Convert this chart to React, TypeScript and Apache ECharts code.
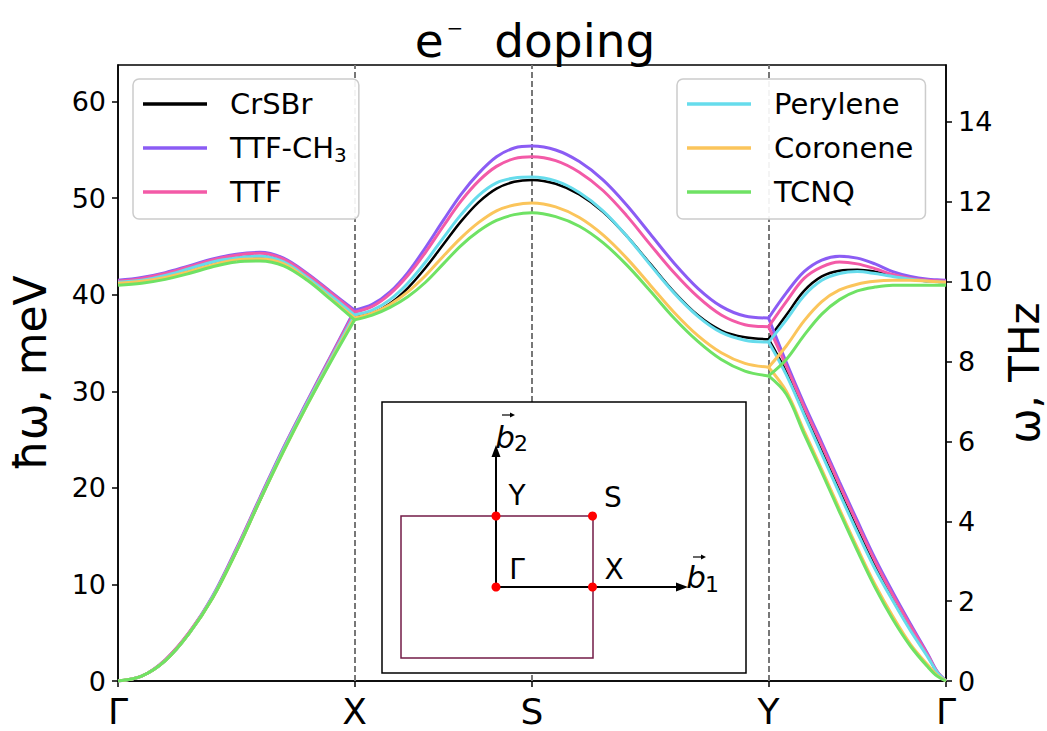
import React, { useEffect, useRef } from 'react';
import * as echarts from 'echarts';

// ---- axis / path definitions ----
const kTicks = [0, 1, 1.75, 2.75, 3.5];
const kLabels = ['Γ', 'X', 'S', 'Y', 'Γ'];
const segFrac = [0, 0.1, 0.2, 0.3, 0.4, 0.5, 0.6, 0.7, 0.8, 0.9, 1];
const ygFrac = [0, 0.1, 0.2, 0.3, 0.4, 0.5, 0.6, 0.7, 0.8, 0.9, 0.95, 1];
const meVTicks = [0, 10, 20, 30, 40, 50, 60];
const thzTicks = [0, 2, 4, 6, 8, 10, 12, 14];
const MEV_MAX = 63.8;
const MEV_PER_THZ = 4.13567;

const materials = ['CrSBr', 'TTF-CH3', 'TTF', 'Perylene', 'Coronene', 'TCNQ'];
const colors = ['#000000', '#8b5cf4', '#f35aa7', '#66dcec', '#fbc55b', '#6fe264'];
const widths = [2.5, 3, 3, 3, 3, 3];

// ---- CrSBr ----
const crsbrGXac = [0, 0.5, 2.1, 4.9, 8.6, 13.4, 18.7, 23.9, 28.7, 33.2, 37.7];
const crsbrGXop = [41.3, 41.5, 42.0, 42.7, 43.4, 43.8, 44.0, 43.4, 41.8, 39.8, 37.7];
const crsbrXS = [37.7, 38.1, 39.1, 40.7, 42.8, 45.2, 47.6, 49.6, 51.0, 51.7, 51.9];
const crsbrSY = [51.9, 51.5, 50.4, 48.6, 46.1, 43.2, 40.3, 37.9, 36.3, 35.6, 35.4];
const crsbrYGop = [35.4, 37.9, 40.4, 41.9, 42.5, 42.6, 42.4, 42.0, 41.6, 41.4, 41.35, 41.3];
const crsbrYGac = [35.4, 32.0, 27.9, 23.8, 19.7, 15.7, 11.9, 8.5, 5.4, 2.5, 0.9, 0];

// ---- TTF-CH3 ----
const ttfch3GXac = [0, 0.5, 2.2, 5.0, 8.8, 13.7, 19.0, 24.2, 29.0, 33.7, 38.4];
const ttfch3GXop = [41.5, 41.8, 42.3, 43.0, 43.7, 44.2, 44.4, 43.8, 42.2, 40.3, 38.4];
const ttfch3XS = [38.4, 39.0, 40.3, 42.3, 44.9, 47.7, 50.4, 52.6, 54.3, 55.2, 55.4];
const ttfch3SY = [55.4, 55.0, 53.8, 51.9, 49.3, 46.3, 43.3, 40.7, 38.8, 37.8, 37.6];
const ttfch3YGop = [37.6, 40.2, 42.4, 43.6, 44.0, 43.8, 43.2, 42.4, 41.9, 41.6, 41.55, 41.5];
const ttfch3YGac = [37.6, 33.0, 28.7, 24.7, 20.6, 16.6, 12.7, 9.2, 5.9, 2.7, 1.0, 0];

// ---- TTF ----
const ttfGXac = [0, 0.5, 2.2, 5.0, 8.7, 13.6, 18.9, 24.1, 28.9, 33.6, 38.2];
const ttfGXop = [41.4, 41.7, 42.2, 42.9, 43.6, 44.1, 44.3, 43.7, 42.1, 40.2, 38.2];
const ttfXS = [38.2, 38.8, 40.1, 42.0, 44.4, 47.1, 49.7, 51.8, 53.3, 54.1, 54.3];
const ttfSY = [54.3, 53.9, 52.7, 50.8, 48.2, 45.2, 42.3, 39.8, 37.9, 36.9, 36.7];
const ttfYGop = [36.7, 39.3, 41.7, 42.9, 43.4, 43.2, 42.7, 42.1, 41.7, 41.5, 41.45, 41.4];
const ttfYGac = [36.7, 32.6, 28.4, 24.4, 20.3, 16.3, 12.4, 8.9, 5.7, 2.6, 0.95, 0];

// ---- Perylene ----
const perGXac = [0, 0.5, 2.1, 4.9, 8.7, 13.5, 18.8, 24.0, 28.8, 33.4, 37.9];
const perGXop = [41.3, 41.5, 42.0, 42.7, 43.4, 43.8, 44.0, 43.4, 41.8, 39.9, 37.9];
const perXS = [37.9, 38.4, 39.5, 41.2, 43.4, 45.9, 48.3, 50.3, 51.6, 52.1, 52.2];
const perSY = [52.2, 51.8, 50.6, 48.7, 46.1, 43.1, 40.2, 37.8, 36.1, 35.3, 35.1];
const perYGop = [35.1, 37.4, 39.9, 41.5, 42.2, 42.4, 42.2, 41.9, 41.6, 41.4, 41.35, 41.3];
const perYGac = [35.1, 31.7, 27.6, 23.5, 19.4, 15.4, 11.6, 8.3, 5.2, 2.4, 0.9, 0];

// ---- Coronene ----
const corGXac = [0, 0.5, 2.1, 4.9, 8.6, 13.4, 18.7, 23.8, 28.6, 33.2, 37.6];
const corGXop = [41.2, 41.4, 41.8, 42.4, 43.1, 43.6, 43.7, 43.2, 41.6, 39.6, 37.6];
const corXS = [37.6, 38.1, 39.0, 40.3, 42.0, 44.0, 45.9, 47.5, 48.7, 49.3, 49.5];
const corSY = [49.5, 49.1, 48.0, 46.2, 43.8, 41.0, 38.2, 35.8, 34.0, 32.9, 32.5];
const corYGop = [32.5, 34.7, 37.3, 39.3, 40.5, 41.1, 41.4, 41.5, 41.5, 41.4, 41.35, 41.3];
const corYGac = [32.5, 30.0, 25.9, 21.9, 17.8, 13.8, 10.0, 6.7, 3.8, 1.6, 0.6, 0];

// ---- TCNQ ----
const tcnqGXac = [0, 0.5, 2.1, 4.9, 8.6, 13.4, 18.7, 23.8, 28.6, 33.1, 37.4];
const tcnqGXop = [41.0, 41.2, 41.6, 42.2, 42.9, 43.4, 43.5, 43.0, 41.5, 39.5, 37.4];
const tcnqXS = [37.4, 37.9, 38.7, 39.8, 41.3, 43.2, 45.1, 46.6, 47.7, 48.3, 48.5];
const tcnqSY = [48.5, 48.1, 47.1, 45.4, 43.1, 40.4, 37.6, 35.2, 33.3, 32.1, 31.6];
const tcnqYGop = [31.6, 33.3, 35.8, 38.0, 39.5, 40.4, 40.8, 41.0, 41.0, 41.0, 41.0, 41.0];
const tcnqYGac = [31.6, 29.7, 25.6, 21.6, 17.5, 13.5, 9.7, 6.4, 3.6, 1.4, 0.5, 0];

const bands = [
  [crsbrGXac, crsbrGXop, crsbrXS, crsbrSY, crsbrYGop, crsbrYGac],
  [ttfch3GXac, ttfch3GXop, ttfch3XS, ttfch3SY, ttfch3YGop, ttfch3YGac],
  [ttfGXac, ttfGXop, ttfXS, ttfSY, ttfYGop, ttfYGac],
  [perGXac, perGXop, perXS, perSY, perYGop, perYGac],
  [corGXac, corGXop, corXS, corSY, corYGop, corYGac],
  [tcnqGXac, tcnqGXop, tcnqXS, tcnqSY, tcnqYGop, tcnqYGac],
];

const FONT = 'DejaVu Sans';

function seg(a: number, b: number, vals: number[], frac: number[] = segFrac) {
  return vals.map((v, i) => [kTicks[a] + (kTicks[b] - kTicks[a]) * frac[i], v]);
}

function buildSeries() {
  const out: any[] = [];
  materials.forEach((name, m) => {
    const [gxa, gxo, xs, sy, ygo, yga] = bands[m];
    const parts = [
      seg(0, 1, gxa),
      seg(0, 1, gxo),
      seg(1, 2, xs).concat(seg(2, 3, sy).slice(1)),
      seg(3, 4, ygo, ygFrac),
      seg(3, 4, yga, ygFrac),
    ];
    parts.forEach((data) => {
      out.push({
        type: 'line',
        name,
        data,
        color: colors[m],
        symbol: 'none',
        smooth: 0.35,
        silent: true,
        z: 2,
        lineStyle: { width: widths[m], color: colors[m] },
        itemStyle: { color: colors[m] },
        emphasis: { disabled: true },
      });
    });
  });
  out.push({
    type: 'line',
    name: '__vlines',
    data: [],
    silent: true,
    markLine: {
      silent: true,
      z: 1,
      symbol: ['none', 'none'],
      label: { show: false },
      lineStyle: { color: '#777777', type: [6, 3], width: 2 },
      data: [{ xAxis: kTicks[1] }, { xAxis: kTicks[2] }, { xAxis: kTicks[3] }],
    },
  });
  return out;
}

const legendCommon = {
  orient: 'vertical',
  top: 79,
  icon: 'rect',
  itemWidth: 64,
  itemHeight: 3.5,
  itemGap: 10,
  padding: [8, 12, 10, 10],
  borderColor: '#cccccc',
  borderWidth: 1.5,
  borderRadius: 6,
  backgroundColor: 'rgba(255,255,255,0.92)',
  selectedMode: false,
  z: 10,
  formatter: (name: string) => (name === 'TTF-CH3' ? 'TTF-CH{sub|3}' : name),
  textStyle: {
    fontFamily: FONT,
    fontSize: 29,
    color: '#000',
    lineHeight: 34,
    padding: [0, 0, 0, 18],
    rich: {
      sub: { fontFamily: FONT, fontSize: 20, color: '#000', padding: [14, 0, 0, 0] },
    },
  },
};

function insetGraphic() {
  const black = '#000';
  const t = (text: string, x: number, y: number, size: number, extra: any = {}) => ({
    type: 'text',
    x,
    y,
    z: 102,
    style: { text, fontFamily: FONT, fontSize: size, fill: black, align: 'center', verticalAlign: 'middle', ...extra },
  });
  const dot = (cx: number, cy: number) => ({
    type: 'circle',
    z: 103,
    shape: { cx, cy, r: 4.5 },
    style: { fill: '#ff0000' },
  });
  const vec = (x: number, y: number) => [
    { type: 'line', z: 102, shape: { x1: x - 6, y1: y, x2: x + 4, y2: y }, style: { stroke: black, lineWidth: 1.2 } },
    { type: 'polygon', z: 102, shape: { points: [[x + 7, y], [x + 2, y - 2.5], [x + 2, y + 2.5]] }, style: { fill: black } },
  ];
  return [
    {
      type: 'rect',
      z: 100,
      shape: { x: 382, y: 402, width: 364, height: 271 },
      style: { fill: '#ffffff', stroke: black, lineWidth: 1.5 },
    },
    {
      type: 'rect',
      z: 101,
      shape: { x: 401, y: 516, width: 192, height: 142 },
      style: { fill: 'none', stroke: '#731b47', lineWidth: 1.5 },
    },
    { type: 'line', z: 101, shape: { x1: 496, y1: 587, x2: 678, y2: 587 }, style: { stroke: black, lineWidth: 2 } },
    { type: 'polygon', z: 101, shape: { points: [[688, 587], [676, 582.5], [676, 591.5]] }, style: { fill: black } },
    { type: 'line', z: 101, shape: { x1: 496, y1: 587, x2: 496, y2: 455 }, style: { stroke: black, lineWidth: 2 } },
    { type: 'polygon', z: 101, shape: { points: [[496, 445], [491.5, 457], [500.5, 457]] }, style: { fill: black } },
    dot(496, 587),
    dot(592.5, 587),
    dot(496, 516),
    dot(592.5, 516),
    t('Γ', 517, 569, 28),
    t('X', 614, 569, 28),
    t('Y', 517, 495, 28),
    t('S', 613, 497, 28),
    t('b', 505, 437, 31, { fontStyle: 'italic' }),
    t('2', 521, 443, 22),
    ...vec(508, 415),
    t('b', 696, 577, 31, { fontStyle: 'italic' }),
    t('1', 712, 584, 22),
    ...vec(699, 557),
  ];
}

export default function App() {
  const ref = useRef<HTMLDivElement>(null);
  useEffect(() => {
    if (!ref.current) return;
    const chart = echarts.init(ref.current, undefined, { renderer: 'svg' });
    const kLabel = (v: number) => {
      const i = kTicks.findIndex((k) => Math.abs(k - v) < 1e-6);
      return i >= 0 ? kLabels[i] : '';
    };
    chart.setOption({
      animation: false,
      backgroundColor: '#ffffff',
      grid: {
        left: 118,
        right: 101,
        top: 65,
        bottom: 50,
        containLabel: false,
        outerBoundsMode: 'none',
        show: true,
        borderColor: '#000',
        borderWidth: 1.5,
        backgroundColor: 'transparent',
      },
      xAxis: {
        type: 'value',
        min: 0,
        max: kTicks[kTicks.length - 1],
        axisLine: { show: true, lineStyle: { color: '#000', width: 1.5 } },
        axisTick: { show: true, customValues: kTicks, length: 6, lineStyle: { color: '#000', width: 1.5 } },
        axisLabel: {
          customValues: kTicks,
          formatter: kLabel,
          fontFamily: FONT,
          fontSize: 36,
          color: '#000',
          margin: 12,
        },
        splitLine: { show: false },
      },
      yAxis: [
        {
          type: 'value',
          min: 0,
          max: MEV_MAX,
          name: 'ħω, meV',
          nameLocation: 'middle',
          nameGap: 66,
          nameRotate: 90,
          nameTextStyle: { fontFamily: FONT, fontSize: 44, color: '#000' },
          axisLine: { show: true, lineStyle: { color: '#000', width: 1.5 } },
          axisTick: { show: true, customValues: meVTicks, length: 6, lineStyle: { color: '#000', width: 1.5 } },
          axisLabel: { customValues: meVTicks, fontFamily: FONT, fontSize: 27, color: '#000', margin: 12 },
          splitLine: { show: false },
        },
        {
          type: 'value',
          position: 'right',
          min: 0,
          max: MEV_MAX / MEV_PER_THZ,
          name: 'ω, THz',
          nameLocation: 'middle',
          nameGap: 43,
          nameRotate: 90,
          nameTextStyle: { fontFamily: FONT, fontSize: 42, color: '#000' },
          axisLine: { show: true, lineStyle: { color: '#000', width: 1.5 } },
          axisTick: { show: true, customValues: thzTicks, length: 6, lineStyle: { color: '#000', width: 1.5 } },
          axisLabel: { customValues: thzTicks, fontFamily: FONT, fontSize: 27, color: '#000', margin: 12 },
          splitLine: { show: false },
        },
      ],
      legend: [
        { ...legendCommon, left: 133, data: materials.slice(0, 3) },
        { ...legendCommon, left: 677, data: materials.slice(3) },
      ],
      graphic: [
        {
          type: 'text',
          x: 535,
          y: 40,
          z: 50,
          style: {
            text: '{m|e}{s|−}{m| doping}',
            align: 'center',
            verticalAlign: 'middle',
            fill: '#000',
            rich: {
              m: { fontFamily: FONT, fontSize: 47, color: '#000' },
              s: { fontFamily: FONT, fontSize: 20, color: '#000', padding: [0, 16, 24, 3] },
            },
          },
        },
        ...insetGraphic(),
      ],
      series: buildSeries(),
    });
    return () => chart.dispose();
  }, []);
  return <div ref={ref} style={{ position: 'absolute', left: 0, top: 0, width: 1047, height: 731 }} />;
}
